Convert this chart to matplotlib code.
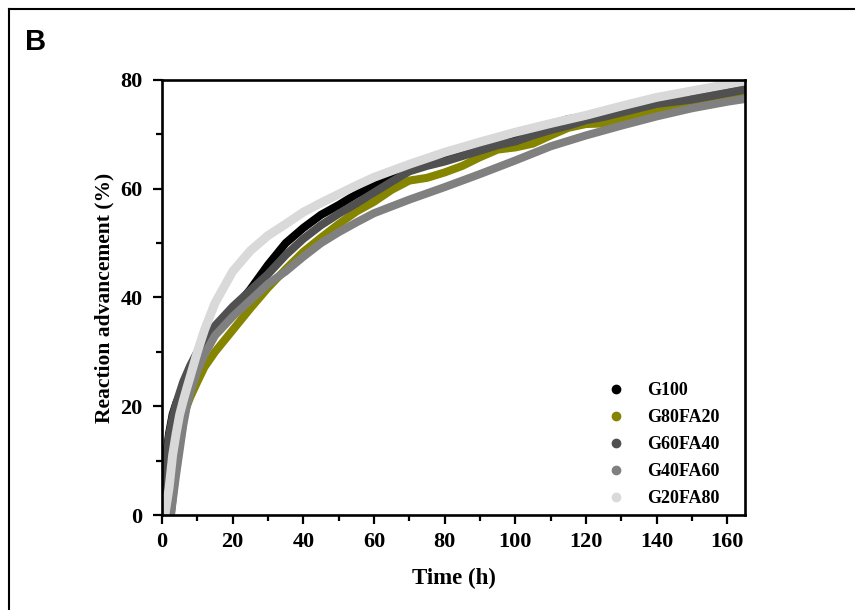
import matplotlib
matplotlib.use("Agg")
import matplotlib.pyplot as plt
from matplotlib.lines import Line2D

# ---------------- data ----------------
t_dark = [0, 1, 2, 3, 4, 5, 6, 8, 10, 12, 15, 20, 25, 30, 35, 40, 45, 50, 55, 60,
          65, 70, 75, 80, 85, 90, 95, 100, 105, 110, 115, 120, 125, 130, 135, 140,
          145, 150, 155, 160, 165]

g100 = [5, 10, 15, 18.5, 20.5, 22, 23.5, 26.5, 29.3, 31.5, 34, 37.5, 41.5, 46, 50,
        52.8, 55.2, 57, 59, 60.5, 62.3, 63.7, 64.8, 65.7, 66.8, 68.2, 69.2, 69.8,
        70.6, 71.8, 72.8, 73.3, 73.9, 74.5, 75.2, 76.2, 77.2, 77.4, 77.6, 78.3, 79]

g60fa40 = [4, 9.5, 14.5, 18, 20.5, 22.5, 24.5, 27.5, 30, 32.2, 34.8, 38.3, 41.3, 44.3,
           47.8, 50.8, 53.3, 55.4, 57.3, 59.3, 61.3, 63.2, 64.2, 65, 66, 67, 68, 68.7,
           69.8, 70.8, 71.6, 72.6, 73.2, 74, 74.8, 75.6, 76, 76.4, 77, 77.6, 78.2]

t_olive = [2.5, 3, 4, 5, 6, 7, 8, 10, 12, 15, 20, 25, 30, 35, 40, 45, 50, 55, 60, 65,
           70, 75, 80, 85, 90, 95, 100, 105, 110, 115, 120, 125, 130, 135, 140, 145,
           150, 155, 160, 165]
g80fa20 = [0, 3, 9, 14.5, 18, 20, 21.7, 24.5, 27.2, 30, 34, 38, 41.8, 45.2, 48.4, 51,
           53.5, 55.8, 57.6, 59.8, 61.5, 62, 63, 64.2, 65.8, 67.2, 67.6, 68.3, 69.8,
           71.2, 71.9, 72, 72.6, 73.8, 74.7, 75, 75.4, 76, 76.7, 77.2]

t_gray = [2.5, 3, 4, 5, 6, 7, 8, 10, 12, 15, 20, 25, 30, 35, 40, 45, 50, 55, 60, 70,
          80, 90, 100, 110, 120, 130, 140, 150, 160, 165]
g40fa60 = [0, 2.5, 7.5, 12, 16.5, 20, 22.5, 26.5, 29.5, 33, 36.5, 39.5, 42.5, 44.8,
           47.5, 50, 52, 53.8, 55.5, 58, 60.3, 62.7, 65.2, 67.8, 69.8, 71.6, 73.3,
           74.8, 76, 76.5]

t_light = [0.8, 2, 3, 4, 5, 6, 7, 8, 10, 12, 15, 20, 25, 30, 35, 40, 45, 50, 55, 60,
           70, 80, 90, 100, 110, 120, 130, 140, 150, 160, 165]
g20fa80 = [0, 5, 11, 15, 18.5, 21, 23.3, 25.5, 30, 34, 39, 44.8, 48.6, 51.4, 53.5,
           55.7, 57.4, 59, 60.6, 62.1, 64.5, 66.7, 68.6, 70.4, 72, 73.5, 75.2, 76.8,
           78, 79.2, 79.8]

labels = ["G100", "G80FA20", "G60FA40", "G40FA60", "G20FA80"]
colors = ["#000000", "#858500", "#505050", "#808080", "#d9d9d9"]

x_ticks = [0, 20, 40, 60, 80, 100, 120, 140, 160]
y_ticks = [0, 20, 40, 60, 80]

# ---------------- plot ----------------
serif = ["Liberation Serif", "DejaVu Serif"]
fig = plt.figure(figsize=(8.55, 6.10), dpi=100)
ax = fig.add_axes([0.1895, 0.1557, 0.6818, 0.7132])

series = [(t_dark, g100), (t_olive, g80fa20), (t_dark, g60fa40),
          (t_gray, g40fa60), (t_light, g20fa80)]
widths = [5.8, 5.8, 5.8, 5.8, 6.4]
for (tx, ty), c, lw in zip(series, colors, widths):
    ax.plot(tx, ty, color=c, lw=lw, solid_capstyle="butt",
            solid_joinstyle="round", clip_on=True)

ax.set_xlim(0, 165)
ax.set_ylim(0, 80)
ax.set_xticks(x_ticks)
ax.set_yticks(y_ticks)
ax.set_xticks([10, 30, 50, 70, 90, 110, 130, 150], minor=True)
ax.set_yticks([10, 30, 50, 70], minor=True)

for s in ax.spines.values():
    s.set_linewidth(1.9)
ax.tick_params(which="major", direction="out", length=6.5, width=1.6)
ax.tick_params(which="minor", direction="out", length=4, width=1.6)
ax.tick_params(axis="x", which="major", pad=6)
ax.tick_params(axis="y", which="major", pad=7.5)
for lab in ax.get_xticklabels() + ax.get_yticklabels():
    lab.set_fontfamily(serif)
    lab.set_fontweight("bold")
    lab.set_fontsize(16)

ax.set_xlabel("Time (h)", fontfamily=serif, fontweight="bold", fontsize=16.5, labelpad=11)
ax.set_ylabel("Reaction advancement (%)", fontfamily=serif, fontweight="bold",
              fontsize=15.5, labelpad=4)

handles = [Line2D([], [], ls="none", marker="o", ms=6, color=c, mec=c) for c in colors]
leg = ax.legend(handles, labels, loc="upper left", bbox_to_anchor=(0.766, 0.306),
                frameon=False, handlelength=0.8, handletextpad=1.32, borderpad=0,
                borderaxespad=0, labelspacing=0.56,
                prop={"family": serif, "weight": "bold", "size": 13})

fig.text(25 / 855, 1 - 50 / 610, "B", fontfamily=["Liberation Sans", "DejaVu Sans"],
         fontweight="bold", fontsize=21, ha="left", va="baseline")

# outer frame (top and left edges)
fig.add_artist(Line2D([9 / 855, 9 / 855], [0, 1 - 9 / 610], color="black", lw=1.5,
                      transform=fig.transFigure))
fig.add_artist(Line2D([9 / 855, 1], [1 - 9 / 610, 1 - 9 / 610], color="black", lw=1.5,
                      transform=fig.transFigure))

fig.savefig("out.png", dpi=100, facecolor="white")
